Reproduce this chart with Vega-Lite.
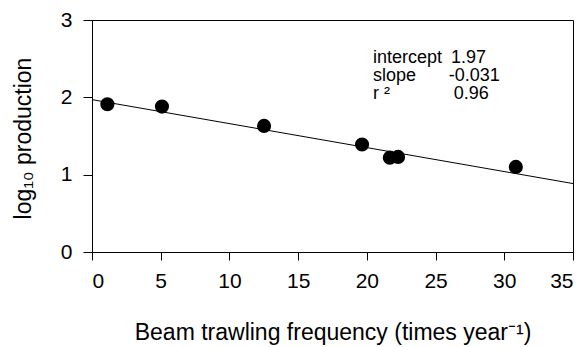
{
  "$schema": "https://vega.github.io/schema/vega-lite/v6.json",
  "autosize": {"type": "none"},
  "padding": {"left": 92, "top": 20, "right": 14, "bottom": 95},
  "width": 481,
  "height": 232,
  "background": "white",
  "config": {
    "font": "Liberation Sans",
    "view": {"stroke": "black", "strokeWidth": 1},
    "axis": {
      "domainColor": "black",
      "tickColor": "black",
      "labelColor": "black",
      "titleColor": "black",
      "grid": false,
      "labelFont": "Liberation Sans",
      "titleFont": "Liberation Sans",
      "titleFontWeight": "normal",
      "labelOverlap": false
    }
  },
  "datasets": {
    "points": [
      {"freq": 1.12, "prod": 1.91},
      {"freq": 5.09, "prod": 1.88},
      {"freq": 12.52, "prod": 1.63},
      {"freq": 19.65, "prod": 1.39},
      {"freq": 21.67, "prod": 1.22},
      {"freq": 22.27, "prod": 1.23},
      {"freq": 30.84, "prod": 1.10}
    ],
    "fit": [
      {"freq": 0, "prod": 1.97},
      {"freq": 35, "prod": 0.885}
    ],
    "labels": [
      {"x": 20.45, "y": 2.448, "t": "intercept"},
      {"x": 20.45, "y": 2.211, "t": "slope"},
      {"x": 20.45, "y": 1.975, "t": "r ²"},
      {"x": 26.12, "y": 2.448, "t": "1.97"},
      {"x": 25.96, "y": 2.211, "t": "-0.031"},
      {"x": 26.32, "y": 1.975, "t": "0.96"}
    ]
  },
  "layer": [
    {
      "data": {"name": "fit"},
      "mark": {"type": "line", "color": "black", "strokeWidth": 1},
      "encoding": {
        "x": {
          "field": "freq",
          "type": "quantitative",
          "scale": {"domain": [0, 35], "nice": false},
          "axis": {
            "values": [0, 5, 10, 15, 20, 25, 30, 35],
            "format": "d",
            "tickSize": 8,
            "labelPadding": 10,
            "labelFontSize": 21,
            "title": "Beam trawling frequency (times year⁻¹)",
            "titleFontSize": 23,
            "titleBaseline": "alphabetic",
            "titleAnchor": "middle",
            "titleY": 87
          }
        },
        "y": {
          "field": "prod",
          "type": "quantitative",
          "scale": {"domain": [0, 3], "nice": false},
          "axis": {
            "values": [0, 1, 2, 3],
            "format": "d",
            "tickSize": 9,
            "labelPadding": 11,
            "labelFontSize": 21,
            "title": "log₁₀ production",
            "titleFontSize": 23,
            "titleAngle": 270,
            "titleBaseline": "middle",
            "titleAlign": "center",
            "titleX": -69,
            "titleY": 118
          }
        }
      }
    },
    {
      "data": {"name": "points"},
      "mark": {"type": "circle", "color": "black", "opacity": 1, "size": 200},
      "encoding": {
        "x": {"field": "freq", "type": "quantitative"},
        "y": {"field": "prod", "type": "quantitative"}
      }
    },
    {
      "data": {"name": "labels"},
      "mark": {"type": "text", "align": "left", "baseline": "alphabetic", "fontSize": 18, "color": "black", "font": "Liberation Sans"},
      "encoding": {
        "x": {"field": "x", "type": "quantitative"},
        "y": {"field": "y", "type": "quantitative"},
        "text": {"field": "t"}
      }
    }
  ]
}
